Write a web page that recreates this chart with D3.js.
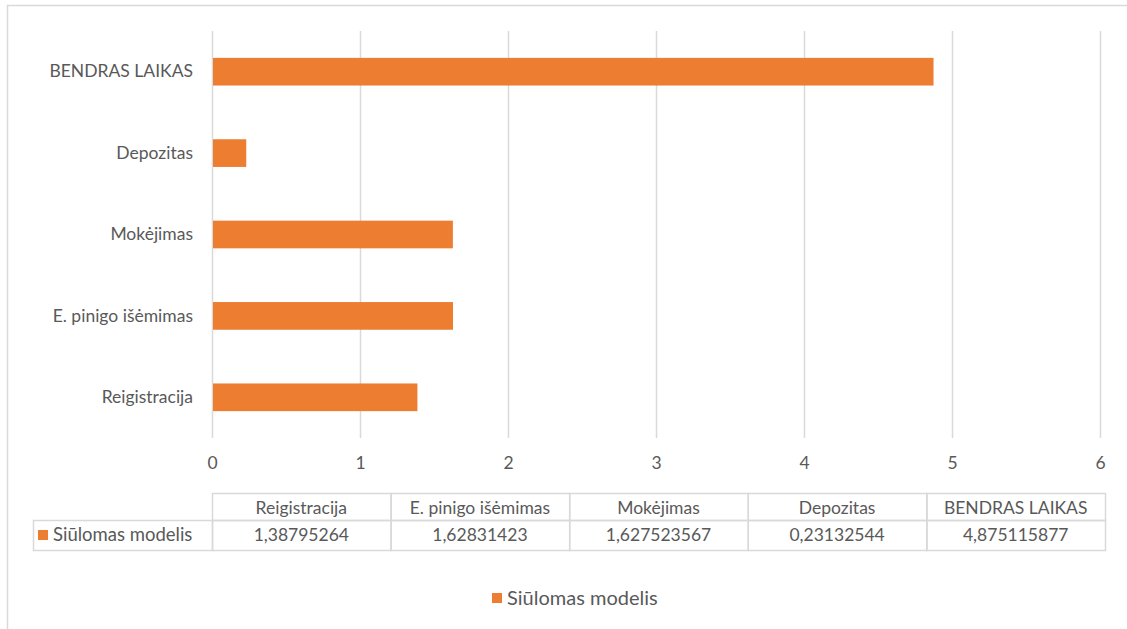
<!DOCTYPE html>
<html>
<head>
	<meta charset="utf-8">
	<title>Siūlomas modelis</title>
	<style>
		body { margin: 0; background: #fff; }
		text { font-family: Lato, "Open Sans", sans-serif; fill: #595959; }
	</style>
</head>
<body>
	<script src="https://d3js.org/d3.v7.min.js"></script>
	<script>
var categories = ['Reigistracija', 'E. pinigo išėmimas', 'Mokėjimas', 'Depozitas', 'BENDRAS LAIKAS'];
var seriesName = 'Siūlomas modelis';
var values = [1.38795264, 1.62831423, 1.627523567, 0.23132544, 4.875115877];
var valueLabels = ['1,38795264', '1,62831423', '1,627523567', '0,23132544', '4,875115877'];
var ticks = [0, 1, 2, 3, 4, 5, 6];

var orange = '#ed7d31';
var grid = '#d9d9d9';
var fs = 17.5;

var svg = d3.select('body').append('svg')
	.attr('width', 1127)
	.attr('height', 629);

// chart area border
svg.append('rect')
	.attr('x', 7.5).attr('y', 5.5)
	.attr('width', 1140).attr('height', 640)
	.attr('fill', 'none')
	.attr('stroke', grid)
	.attr('stroke-width', 1.5);

var x = d3.scaleLinear().domain([0, 6]).range([212, 1100]);
var y = d3.scaleBand()
	.domain(categories.slice().reverse())
	.range([31, 438])
	.paddingInner(0.66)
	.paddingOuter(0.33);

// gridlines
svg.append('g').selectAll('line')
	.data(ticks)
	.enter().append('line')
	.attr('x1', function(d) { return Math.round(x(d)) + 0.5; })
	.attr('x2', function(d) { return Math.round(x(d)) + 0.5; })
	.attr('y1', 31)
	.attr('y2', 438)
	.attr('stroke', grid)
	.attr('stroke-width', 1.5);

// bars
svg.append('g').selectAll('rect')
	.data(values)
	.enter().append('rect')
	.attr('x', x(0) + 1)
	.attr('y', function(d, i) { return y(categories[i]); })
	.attr('width', function(d) { return x(d) - x(0) - 1; })
	.attr('height', y.bandwidth())
	.attr('fill', orange);

// x tick labels
var xAxis = svg.append('g')
	.attr('transform', 'translate(0,448)')
	.call(d3.axisBottom(x).tickValues(ticks).tickFormat(d3.format('d')).tickSize(0).tickPadding(9));
xAxis.select('.domain').remove();
xAxis.selectAll('text')
	.attr('font-size', fs)
	.attr('font-family', null);

// category labels
var yAxis = svg.append('g')
	.attr('transform', 'translate(205,0)')
	.call(d3.axisLeft(y).tickSize(0).tickPadding(12));
yAxis.select('.domain').remove();
yAxis.selectAll('text')
	.attr('font-size', fs)
	.attr('font-family', null);

// data table
var colW = (1105 - 212) / categories.length;
var tableTop = 493, rowH = 27, rowH2 = 30;
var table = svg.append('g');

table.selectAll('rect.head')
	.data(categories)
	.enter().append('rect')
	.attr('class', 'head')
	.attr('x', function(d, i) { return 212 + i * colW + 0.5; })
	.attr('y', tableTop + 0.5)
	.attr('width', colW)
	.attr('height', rowH)
	.attr('fill', 'none')
	.attr('stroke', grid)
	.attr('stroke-width', 1.5);

table.selectAll('rect.cell')
	.data(valueLabels)
	.enter().append('rect')
	.attr('class', 'cell')
	.attr('x', function(d, i) { return 212 + i * colW + 0.5; })
	.attr('y', tableTop + rowH + 0.5)
	.attr('width', colW)
	.attr('height', rowH2)
	.attr('fill', 'none')
	.attr('stroke', grid)
	.attr('stroke-width', 1.5);

table.append('rect')
	.attr('x', 33.5)
	.attr('y', tableTop + rowH + 0.5)
	.attr('width', 212 - 33)
	.attr('height', rowH2)
	.attr('fill', 'none')
	.attr('stroke', grid)
	.attr('stroke-width', 1.5);

table.selectAll('text.head')
	.data(categories)
	.enter().append('text')
	.attr('class', 'head')
	.attr('x', function(d, i) { return 212 + (i + 0.5) * colW; })
	.attr('y', tableTop + rowH / 2 + 1)
	.attr('dy', '0.35em')
	.attr('text-anchor', 'middle')
	.attr('font-size', fs)
	.text(function(d) { return d; });

table.selectAll('text.cell')
	.data(valueLabels)
	.enter().append('text')
	.attr('class', 'cell')
	.attr('x', function(d, i) { return 212 + (i + 0.5) * colW; })
	.attr('y', tableTop + rowH + rowH2 / 2)
	.attr('dy', '0.35em')
	.attr('text-anchor', 'middle')
	.attr('font-size', fs)
	.text(function(d) { return d; });

table.append('rect')
	.attr('x', 38).attr('y', tableTop + rowH + rowH2 / 2 - 5)
	.attr('width', 10).attr('height', 10)
	.attr('fill', orange);
table.append('text')
	.attr('x', 53)
	.attr('y', tableTop + rowH + rowH2 / 2)
	.attr('dy', '0.35em')
	.attr('font-size', 18.5)
	.text(seriesName);

// legend
var legend = svg.append('g').attr('transform', 'translate(492,598)');
legend.append('rect')
	.attr('x', 0).attr('y', -5)
	.attr('width', 10).attr('height', 10)
	.attr('fill', orange);
legend.append('text')
	.attr('x', 15)
	.attr('dy', '0.35em')
	.attr('font-size', 20)
	.text(seriesName);
	</script>
</body>
</html>
